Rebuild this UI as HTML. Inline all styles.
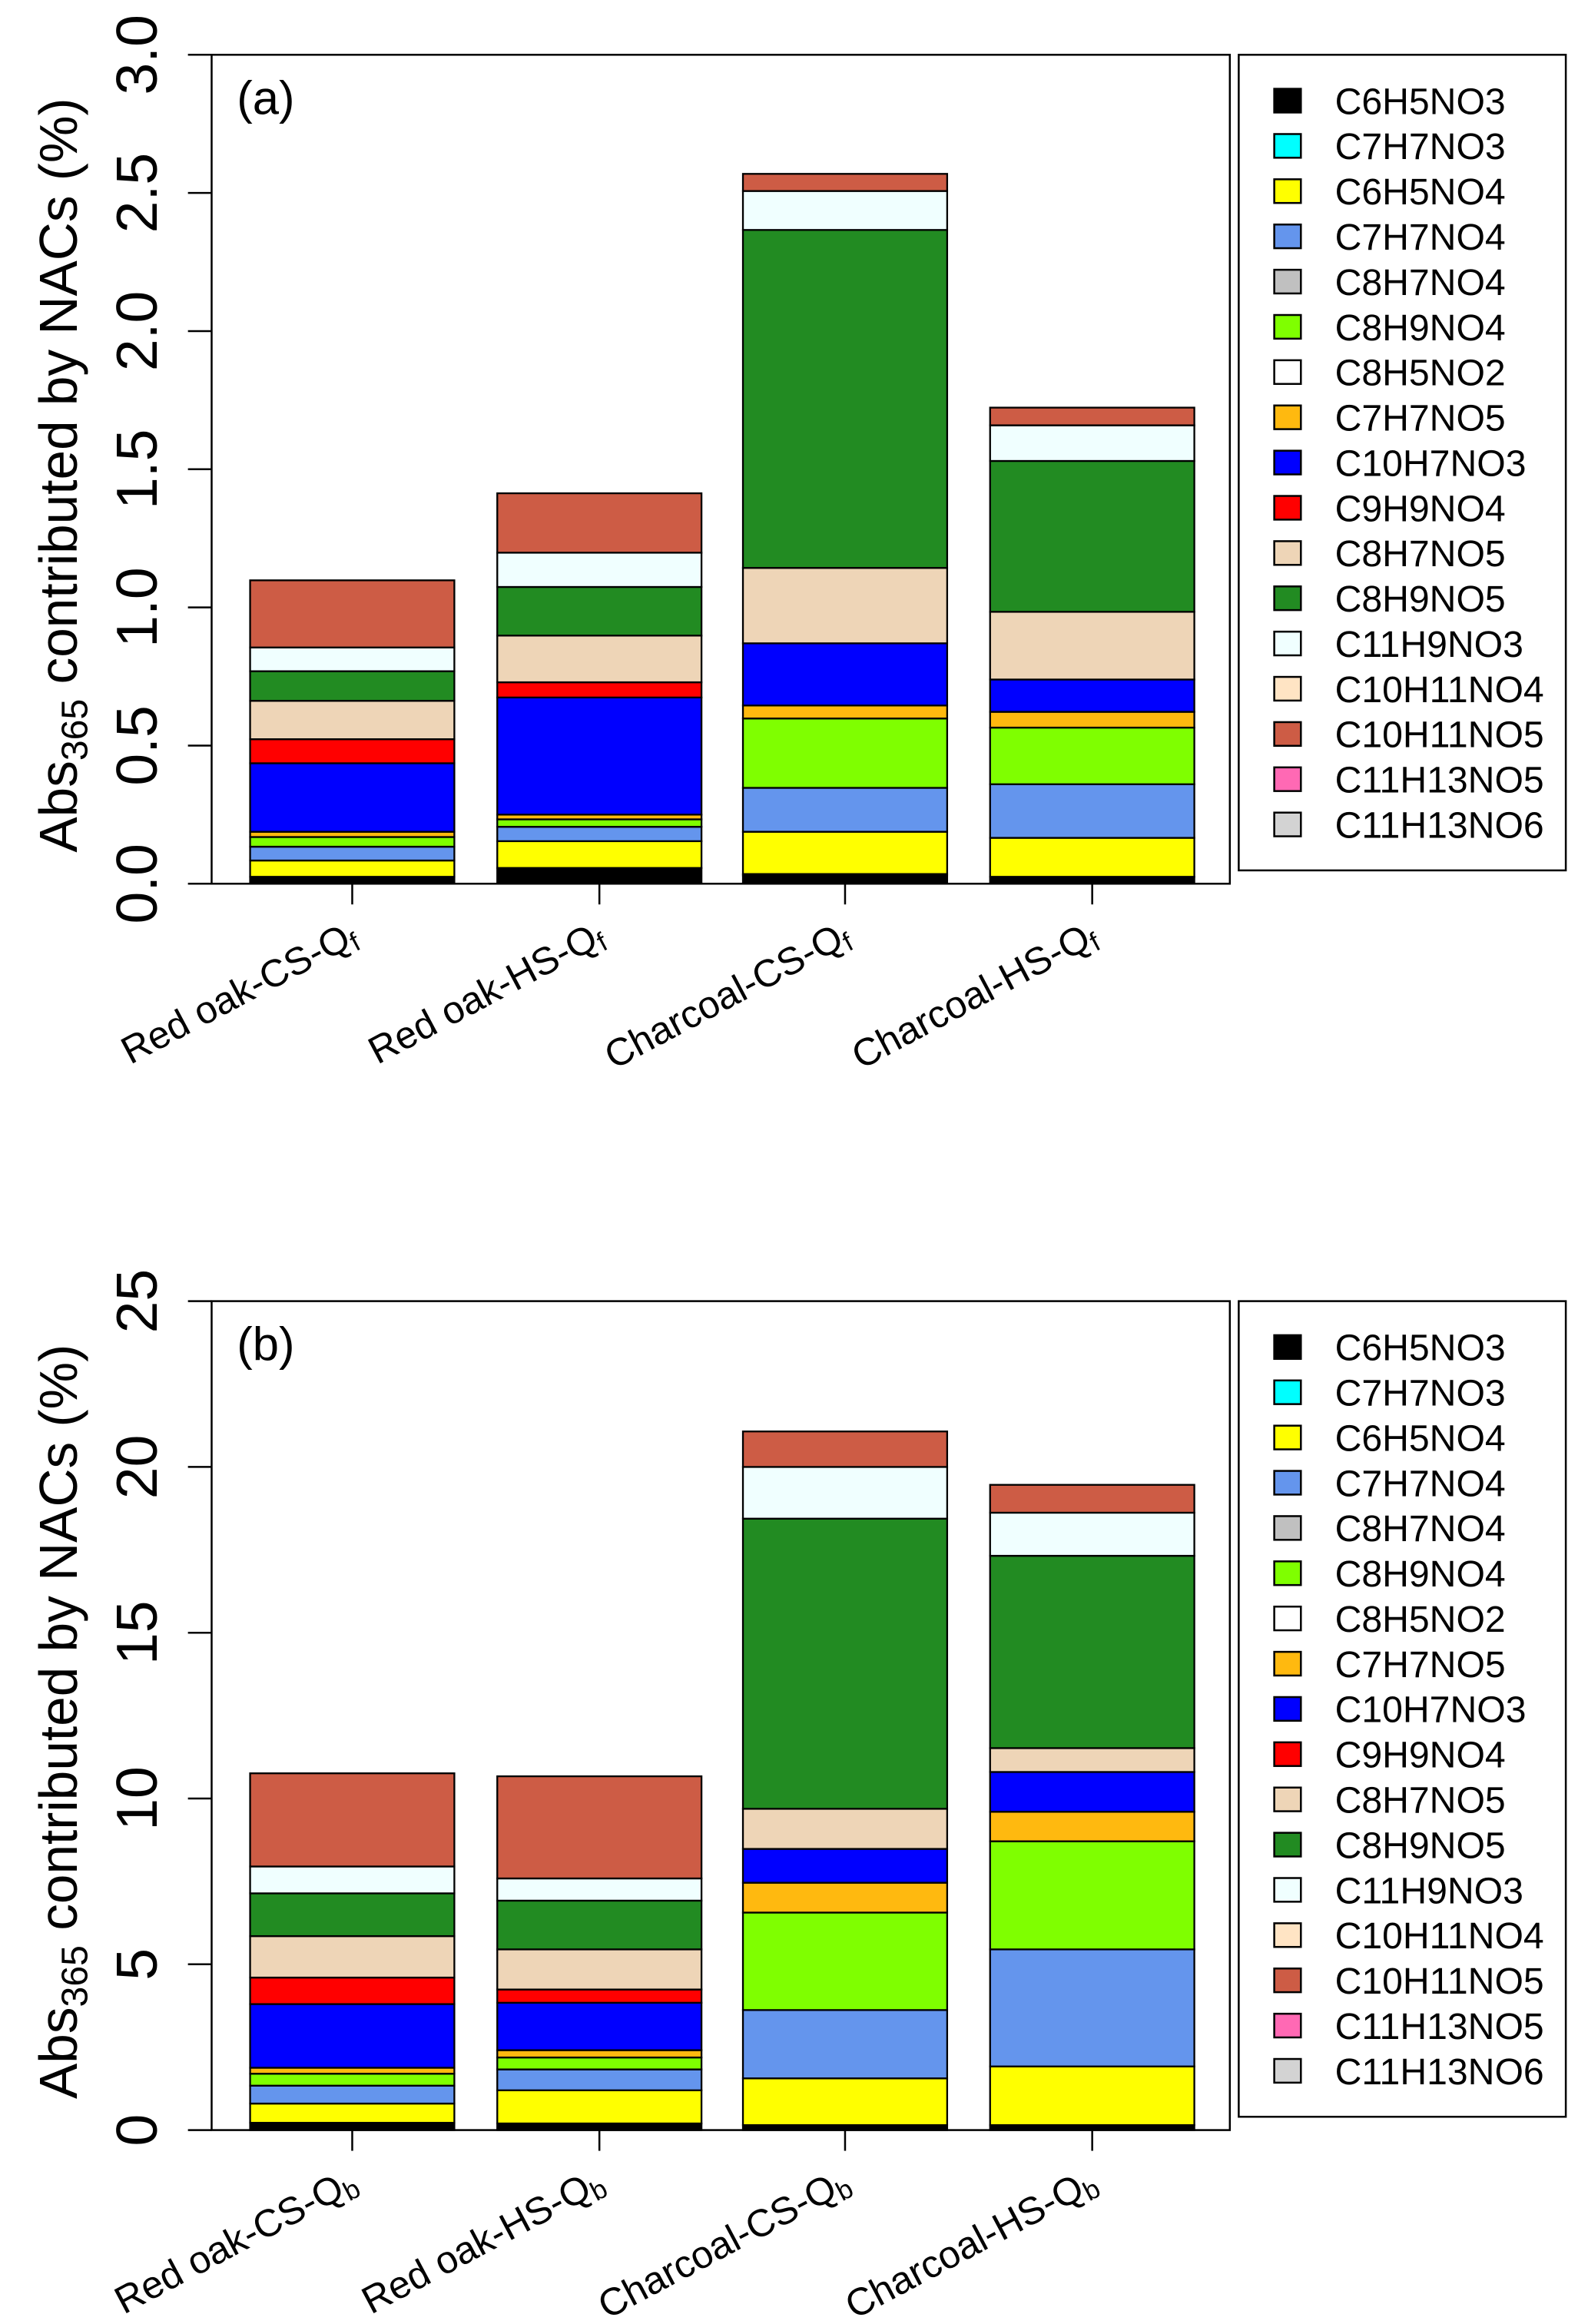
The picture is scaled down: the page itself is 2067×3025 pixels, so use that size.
<!DOCTYPE html>
<html><head><meta charset="utf-8"><style>
html,body{margin:0;padding:0;background:#fff;}
svg{display:block;font-family:"Liberation Sans",Arial,sans-serif;}
</style></head><body>
<svg id="chart" width="2067" height="3025" viewBox="0 0 1073 1570" preserveAspectRatio="none" xmlns="http://www.w3.org/2000/svg"></svg>
<script>
const species = ["C6H5NO3","C7H7NO3","C6H5NO4","C7H7NO4","C8H7NO4","C8H9NO4","C8H5NO2","C7H7NO5","C10H7NO3","C9H9NO4","C8H7NO5","C8H9NO5","C11H9NO3","C10H11NO4","C10H11NO5","C11H13NO5","C11H13NO6"];
const colors = ["#000000","#00ffff","#ffff00","#6495ed","#c0c0c0","#7fff00","#ffffff","#ffb90f","#0000ff","#ff0000","#eed5b7","#228b22","#f0ffff","#ffe4c4","#cd5c45","#ff69b4","#d3d3d3"];
const catsA = ["Red oak-CS-Q","Red oak-HS-Q","Charcoal-CS-Q","Charcoal-HS-Q"];
const subA = "f";
const subB = "b";
const ticksA = [0,0.5,1,1.5,2,2.5,3];
const tickLabelsA = ["0.0","0.5","1.0","1.5","2.0","2.5","3.0"];
const ticksB = [0,5,10,15,20,25];
const tickLabelsB = ["0","5","10","15","20","25"];
// values per bar, in species order
const redOakCSQf = [0.025,0,0.059,0.05,0,0.035,0,0.019,0.248,0.087,0.139,0.107,0.086,0,0.243,0,0];
const redOakHSQf = [0.057,0,0.097,0.052,0,0.027,0,0.017,0.424,0.055,0.169,0.176,0.124,0,0.215,0,0];
const charcoalCSQf = [0.03,0.005,0.153,0.159,0,0.251,0,0.047,0.225,0,0.273,1.223,0.141,0,0.062,0,0];
const charcoalHSQf = [0.025,0,0.141,0.194,0,0.205,0,0.057,0.117,0,0.245,0.546,0.129,0,0.064,0,0];
const redOakCSQb = [0.22,0,0.58,0.54,0,0.36,0,0.18,1.92,0.8,1.25,1.29,0.81,0,2.81,0,0];
const redOakHSQb = [0.2,0,1.0,0.63,0,0.36,0,0.22,1.43,0.4,1.21,1.47,0.67,0,3.08,0,0];
const charcoalCSQb = [0.15,0,1.41,2.06,0,2.94,0,0.9,1.02,0,1.21,8.75,1.56,0,1.07,0,0];
const charcoalHSQb = [0.15,0,1.77,3.53,0,3.26,0,0.89,1.2,0,0.72,5.8,1.3,0,0.84,0,0];

const NS="http://www.w3.org/2000/svg";
const svg=document.getElementById('chart');
function mk(tag,attrs,parent){const e=document.createElementNS(NS,tag);for(const k in attrs)e.setAttribute(k,attrs[k]);(parent||svg).appendChild(e);return e;}

function panel(id,top,ymax,ticks,tlabels,bars,sub,letter){
  const g=mk('g',{});
  
  
  const L=143,R=831,T=top,B=top+560;
  const y=v=>B-(v/ymax)*(B-T);
  const centers=[238,405,571,738], bw=138;
  bars.forEach((vals,i)=>{
    let cum=0;
    const bg=mk('g',{},g);
    
    
    vals.forEach((v,j)=>{
      if(v<=0)return;
      const r=mk('rect',{x:centers[i]-bw/2,y:y(cum+v),width:bw,height:y(cum)-y(cum+v),fill:colors[j],stroke:'#000','stroke-width':1.2},bg);
      
      
      cum+=v;
    });
  });
  const box=mk('rect',{x:L,y:T,width:R-L,height:B-T,fill:'none',stroke:'#000','stroke-width':1.3},g);
  
  
  const ya=mk('g',{},g);
  
  
  ticks.forEach((t,k)=>{
    mk('line',{x1:127,x2:143,y1:y(t),y2:y(t),stroke:'#000','stroke-width':1.3},ya);
    const tx=mk('text',{x:0,y:0,transform:`translate(106,${y(t)}) rotate(-90)`,'text-anchor':'middle','font-size':39},ya);
    tx.textContent=tlabels[k];
    
    
  });
  const yt=mk('text',{transform:`translate(52,${(T+B)/2+4}) rotate(-90)`,'text-anchor':'middle','font-size':36},g);
  
  
  yt.innerHTML='Abs<tspan font-size="25" dy="7">365</tspan><tspan dy="-7"> contributed by NACs (%)</tspan>';
  const xa=mk('g',{},g);
  
  
  catsA.forEach((c,i)=>{
    mk('line',{x1:centers[i],x2:centers[i],y1:B,y2:B+14,stroke:'#000','stroke-width':1.3},xa);
    const tx=mk('text',{transform:`translate(${centers[i]+5},${B+40}) rotate(-28)`,'text-anchor':'end','font-size':26},xa);
    tx.innerHTML=c+'<tspan font-size="18" dy="4">'+sub+'</tspan>';
    
    
  });
  const pl=mk('text',{x:160,y:T+40,'font-size':32},g);
  pl.textContent=letter;
  
  
  const lg=mk('g',{},g);
  
  
  mk('rect',{x:837,y:T,width:221,height:551,fill:'#fff',stroke:'#000','stroke-width':1.3},lg);
  species.forEach((s,j)=>{
    const cy=T+31+j*30.56;
    const eg=mk('g',{},lg);
    
    
    mk('rect',{x:861,y:cy-8,width:18,height:16,fill:colors[j],stroke:'#000','stroke-width':1.3},eg);
    const tx=mk('text',{x:902,y:cy+9,'font-size':25},eg);
    tx.textContent=s;
  });
}
panel('a',37,3,ticksA,tickLabelsA,[redOakCSQf,redOakHSQf,charcoalCSQf,charcoalHSQf],subA,'(a)');
panel('b',879,25,ticksB,tickLabelsB,[redOakCSQb,redOakHSQb,charcoalCSQb,charcoalHSQb],subB,'(b)');
</script>
</body></html>
